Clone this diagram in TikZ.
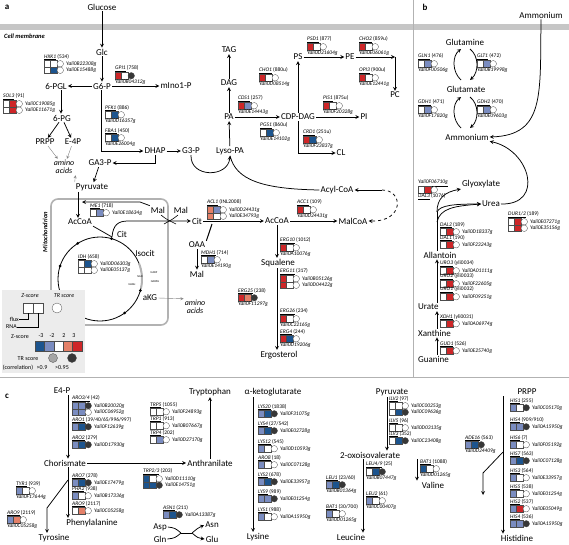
\documentclass[tikz,border=0pt]{standalone}
\usepackage{fontspec}
\setmainfont{Carlito}
\usepackage{tikz}
\usetikzlibrary{arrows}

\definecolor{zdb}{RGB}{28,84,142}
\definecolor{zlb}{RGB}{122,140,192}
\definecolor{zlr}{RGB}{228,128,104}
\definecolor{zdr}{RGB}{206,38,40}
\definecolor{trg}{RGB}{165,165,165}
\definecolor{trd}{RGB}{55,55,55}

\newcommand{\gn}[1]{\underline{\textit{#1}}}
\newcommand{\glyph}[4]{%
  \draw[gbox,fill=#2] (#1) rectangle ++(6.5,6.5);
  \draw[gbox,fill=#3] (#1) ++(6.5,0) rectangle ++(6.5,6.5);
  \draw[gbox,fill=#4] (#1) ++(16.25,3.25) circle (3.25);}
\newcommand{\glab}[3]{\node[glab] (#1) at (#2) {#3};}
\newcommand{\grow}[6]{\glyph{#2}{#3}{#4}{#5}\path (#2) ++(22,3.25) node[gid] (#1) {#6};}
\newcommand{\gbel}[6]{\glyph{#2}{#3}{#4}{#5}\path (#2) ++(0,10) node[gid] (#1) {#6};}

\begin{document}
\begin{tikzpicture}[x=1pt,y=-1pt,
  met/.style={font=\fontsize{9}{10}\selectfont,inner sep=1pt},
  glab/.style={font=\fontsize{5.5}{6}\selectfont,anchor=west,inner sep=0pt},
  gid/.style={font=\fontsize{5.5}{6}\selectfont\itshape,anchor=west,inner sep=0pt},
  gbox/.style={draw=black!70,line width=0.3pt},
  arr/.style={->,>=stealth,line width=0.75pt},
  garr/.style={->,>=stealth,gray,line width=0.4pt},
  aa/.style={font=\fontsize{8}{8.5}\selectfont\itshape,align=center,inner sep=1pt},
  tiny/.style={font=\fontsize{2.8}{3}\selectfont,inner sep=0pt},
  leg/.style={font=\fontsize{6}{7}\selectfont,inner sep=0pt},
  plab/.style={font=\bfseries\fontsize{9}{10}\selectfont,inner sep=0pt}]
\useasboundingbox (0,0) rectangle (569,544);

% frame
\fill[gray!45] (0,24) rectangle (569,30);
\draw[gray!60,line width=1pt] (413,0) -- (413,377);
\draw[gray!60,line width=1pt] (0,377) -- (569,377);
\node[plab] (la) at (7,7) {a};
\node[plab] (lb) at (425,7) {b};
\node[plab] (lc) at (7,396) {c};
\node[font=\bfseries\itshape\fontsize{6.5}{7}\selectfont,anchor=west,inner sep=0pt] (memb) at (4,36) {Cell membrane};

% ---------------- panel a
\draw[gray!60,line width=1.6pt,rounded corners=7pt] (51,199) rectangle (168,325);
\node[rotate=90,font=\bfseries\itshape\fontsize{6.5}{7}\selectfont] (mito) at (45,232) {Mitochondrion};

\node[met] (glucose) at (102,7) {Glucose};
\node[met] (glc) at (102,52) {Glc};
\node[met] (g6p) at (102,86) {G6-P};
\node[met] (pgl) at (56,86) {6-PGL};
\node[met] (mino) at (176,86) {mIno1-P};
\node[met] (pg) at (62,118) {6-PG};
\node[met] (prpp) at (45,142) {PRPP};
\node[met] (e4p) at (73,142) {E-4P};
\node[aa] (aa1) at (64,167) {amino\\acids};
\node[met] (dhap) at (155,151) {DHAP};
\node[met] (g3p) at (191,151) {G3-P};
\node[met] (ga3p) at (100,163) {GA3-P};
\node[met] (pyr) at (92,187) {Pyruvate};
\node[met] (accoa) at (80,222) {AcCoA};
\node[met] (mal1) at (158,210) {Mal};
\node[met] (mal2) at (181,210) {Mal};
\node[met] (cit1) at (122,234) {Cit};
\node[met] (isocit) at (145,253) {Isocit};
\node[met] (akg) at (150,298) {aKG};
\node[aa] (aa2) at (195,307) {amino\\acids};
\node[met] (cit2) at (197,221) {Cit};
\node[met] (accoa2) at (277,221) {AcCoA};
\node[met] (malcoa) at (353,221) {MalCoA};
\node[met] (oaa) at (197,245) {OAA};
\node[met] (mal3) at (197,274) {Mal};
\node[met] (squal) at (278,263) {Squalene};
\node[met] (ergo) at (279,355) {Ergosterol};
\node[met] (tag) at (229,50) {TAG};
\node[met] (dag) at (229,83) {DAG};
\node[met] (pa) at (229,117) {PA};
\node[met] (lysopa) at (230,151) {Lyso-PA};
\node[met] (cdpdag) at (298,117) {CDP-DAG};
\node[met] (ps) at (298,57) {PS};
\node[met] (pe) at (350,57) {PE};
\node[met] (pc) at (395,95) {PC};
\node[met] (pi) at (364,117) {PI};
\node[met] (cl) at (341,153) {CL};
\node[met] (acylcoa) at (337,190) {Acyl-CoA};

\coordinate (pax) at (78,0);
\coordinate (g6x) at (101,0);
\coordinate (pgx) at (61,0);
\coordinate (pec) at (395,57);
\coordinate (me1end) at (82,202);
\coordinate (citdot) at (112,237);
\coordinate (sqx) at (277,0);
\coordinate (fasc) at (382,190);

\draw[arr] (glucose) -- (glc);
\draw[arr] (glc) -- (g6p);
\draw[arr] (g6p) -- (pgl);
\draw[arr] (g6p) -- (mino);
\draw[arr] (pgl.south -| pgx) -- (pg.north -| pgx);
\draw[arr] (pg) -- (prpp);
\draw[arr] (pg) -- (e4p);
\draw[garr] (prpp) -- (aa1);
\draw[garr] (e4p) -- (aa1);
\draw[arr] (g6p.south -| g6x) |- (dhap.west);
\draw[arr] (dhap) -- (g3p);
\draw[arr] (dhap.south) |- (ga3p.east);
\draw[arr] (ga3p) -- (pyr);
\draw[garr] (pyr.north west) -- (aa1.south east);
\draw[arr] (pyr.south -| pax) -- (accoa.north -| pax);
\draw[arr] (mal1.north west) -- (140,202) -- (me1end);
\draw[line width=0.75pt] (accoa.south east) .. controls (102,231) .. (citdot);
\draw[arr] (citdot) .. controls (113,225) and (118,221) .. (128,221) -- (cit2.west);
\draw[line width=0.6pt] (161,215) .. controls (166,219) .. (176,224);
\draw[line width=0.6pt] (178,215) .. controls (173,219) .. (164,224);
\draw[arr] (cit2) -- (accoa2);
\draw[line width=1pt] (212,224) -- (oaa.north east);
\draw[arr] (oaa) -- (mal3);
\draw[arr] (accoa2) -- (malcoa);
\draw[arr] (accoa2.south -| sqx) -- (squal.north -| sqx);
\draw[arr] (squal.south -| sqx) -- (ergo.north -| sqx);
\draw[garr] (akg.east) -- (aa2.north west);
\draw[arr] (g3p.south) .. controls (190,178) and (228,178) .. (lysopa.south);
\draw[line width=0.75pt] (acylcoa.west) .. controls (262,189) and (236,180) .. (lysopa.south);
\draw[arr] (lysopa) -- (pa);
\draw[arr] (pa) -- (dag);
\draw[arr] (dag) -- (tag);
\draw[arr] (pa) -- (cdpdag);
\draw[arr] (cdpdag) -- (ps);
\draw[arr] (ps) -- (pe);
\draw[arr] (pe) -- (pec);
\draw[arr] (pec) -- (pc);
\draw[arr] (cdpdag) -- (pi);
\draw[arr] (cdpdag.south) |- (cl.west);
\draw[arr] (fasc) -- (acylcoa.east);
\draw[arr,dashed] (fasc) .. controls (404,190) and (404,222) .. (malcoa.east);

% TCA cycle
\draw[line width=0.8pt] (100,279) circle (42);
\draw[gray!60,line width=2pt] (100,279) ++(-22:42) arc (-22:12:42);
\foreach \a in {-74,-122,-162,54,16}
  \fill (100,279) ++(\a:42) circle (1.5);
\node[tiny] (nad) at (140,277) {NAD};
\node[tiny] (nadp) at (154,273) {NADP};
\node[tiny] (nadh) at (132,285) {NADH};
\node[tiny] (nadph) at (155,282) {NADPH};

% genes panel a
\glab{hxk1}{44,57}{\gn{HXK1} (534)}
\grow{hxk1a}{44,60.5}{white}{white}{white}{Yali0B22308g}
\grow{hxk1b}{44,67}{white}{zdb}{white}{Yali0E15488g}
\glab{gpi1}{115,69}{\gn{GPI1} (758)}
\gbel{gpi1a}{115,72.5}{zdr}{white}{trd}{Yali0B04312g}
\glab{sol3}{3,97}{\gn{SOL3} (91)}
\grow{sol3a}{3,100.5}{white}{zdr}{white}{Yali0C19085g}
\grow{sol3b}{3,107}{white}{zdr}{white}{Yali0E11671g}
\glab{pfk1}{105,108}{\gn{PFK1} (886)}
\gbel{pfk1a}{105,111.5}{white}{zdb}{white}{Yali0D16357g}
\glab{fba1}{105,131}{\gn{FBA1} (450)}
\gbel{fba1a}{105,134.5}{white}{zdb}{white}{Yali0E26004g}
\glab{me1}{90,206}{\gn{ME1} (718)}
\grow{me1a}{90,209.5}{white}{zlb}{white}{Yali0E18634g}
\glab{idh}{78,257}{\gn{IDH} (658)}
\grow{idha}{78,260.5}{white}{zdb}{white}{Yali0D06303g}
\grow{idhb}{78,267}{white}{white}{white}{Yali0E05137g}
\glab{cho1}{259,71}{\gn{CHO1} (880u)}
\gbel{cho1a}{259,74.5}{zdr}{white}{white}{Yali0D08514g}
\glab{cds1}{238,99}{\gn{CDS1} (257)}
\gbel{cds1a}{238,102.5}{zdr}{zlb}{white}{Yali0E14443g}
\glab{psd1}{307,40}{\gn{PSD1} (877)}
\gbel{psd1a}{307,43.5}{zdr}{white}{white}{Yali0D21604g}
\glab{cho2}{359,40}{\gn{CHO2} (859u)}
\gbel{cho2a}{359,43.5}{zdr}{white}{white}{Yali0E06061g}
\glab{opi3}{359,71}{\gn{OPI3} (900u)}
\gbel{opi3a}{359,74.5}{zdr}{white}{white}{Yali0E12441g}
\glab{pis1}{323,99}{\gn{PIS1} (875u)}
\gbel{pis1a}{323,102.5}{zdr}{white}{white}{Yali0F20328g}
\glab{pgs1}{260,126}{\gn{PGS1} (860u)}
\gbel{pgs1a}{260,129.5}{white}{zdb}{white}{Yali0E14102g}
\glab{crd1}{303,133}{\gn{CRD1} (251u)}
\gbel{crd1a}{303,136.5}{zdr}{zdb}{white}{Yali0F23837g}
\glab{acl1}{207,203}{\gn{ACL1} (INL2008)}
\grow{acl1a}{207,206.5}{zlr}{zlb}{white}{Yali0D24431g}
\grow{acl1b}{207,213}{zlr}{white}{white}{Yali0E34793g}
\glab{acc1}{297,203}{\gn{ACC1} (109)}
\gbel{acc1a}{297,206.5}{zdr}{white}{white}{Yali0D24431g}
\glab{mdh1}{201,253}{\gn{MDH1} (714)}
\gbel{mdh1a}{201,256.5}{white}{zlb}{white}{Yali0E14190g}
\glab{erg10}{280,241}{\gn{ERG10} (1012)}
\gbel{erg10a}{280,244.5}{zdr}{white}{white}{Yali0A10076g}
\glab{erg11}{280,272}{\gn{ERG11} (317)}
\grow{erg11a}{280,275.5}{zdr}{white}{white}{Yali0B05126g}
\grow{erg11b}{280,282}{zdr}{white}{white}{Yali0D04422g}
\glab{erg25}{238,291}{\gn{ERG25} (238)}
\gbel{erg25a}{238,294.5}{zdr}{zlr}{trd}{Yali0F11297g}
\glab{erg26}{280,312}{\gn{ERG26} (234)}
\gbel{erg26a}{280,315.5}{zdr}{white}{white}{Yali0C22165g}
\glab{erg4}{280,332}{\gn{ERG4} (244)}
\gbel{erg4a}{280,335.5}{zdr}{zdb}{white}{Yali0D19206g}

% legend
\fill[gray!15] (2,290) rectangle (85,373);
\node[leg,font=\fontsize{6}{7}\selectfont\itshape] (lz1) at (30,296) {Z-score};
\node[leg,font=\fontsize{6}{7}\selectfont\itshape] (ltr1) at (64,296) {TR score};
\draw[gbox,fill=white] (23,303) rectangle (33,313);
\draw[gbox,fill=white] (33,303) rectangle (43,313);
\draw[gbox,fill=white] (57,308) circle (5);
\node[leg,anchor=east] (lflux) at (19,319) {flux};
\node[leg,anchor=east] (lrna) at (17,327) {RNA};
\draw[line width=0.4pt] (28,313) |- (lflux.east);
\draw[line width=0.4pt] (38,313) |- (lrna.east);
\node[leg] (lz2) at (20,337) {Z-score};
\node[leg] (lm3) at (41,336) {-3};
\node[leg] (lm2) at (52,336) {-2};
\node[leg] (lp2) at (64,336) {2};
\node[leg] (lp3) at (74,336) {3};
\foreach \c [count=\i from 0] in {zdb,zlb,white,zlr,zdr}
  \draw[gbox,fill=\c] (35+9.4*\i,341) rectangle ++(9.4,10);
\node[leg] (ltr2) at (28,359) {TR score};
\node[leg] (lcor) at (18,368) {(correlation)};
\draw[gbox,fill=trg] (53,358) circle (4.5);
\draw[gbox,fill=trd] (72,358) circle (4.5);
\node[leg] (l09) at (42,368) {>0.9};
\node[leg] (l095) at (62,368) {>0.95};

% ---------------- panel b
\node[met] (amm1) at (541,15) {Ammonium};
\node[met] (gln) at (465,42) {Glutamine};
\node[met] (glu) at (466,89) {Glutamate};
\node[met] (amm2) at (467,137) {Ammonium};
\node[met] (glyox) at (481,184) {Glyoxylate};
\node[met] (urea) at (491,204) {Urea};
\node[met] (allan) at (440,255) {Allantoin};
\node[met,anchor=west] (urate) at (417,307) {Urate};
\node[met,anchor=west] (xanth) at (417,333) {Xanthine};
\node[met,anchor=west] (guan) at (417,359) {Guanine};
\coordinate (alx) at (437,0);
\coordinate (alk) at (437,212);

\draw[arr] (amm1.south) .. controls (540,95) and (545,135) .. (amm2.east);
\draw[arr] (461,80) .. controls (452,72) and (452,56) .. (461,49);
\draw[arr] (470,49) .. controls (479,56) and (479,72) .. (470,80);
\draw[arr] (461,128) .. controls (452,120) and (452,104) .. (461,97);
\draw[arr] (470,97) .. controls (479,104) and (479,120) .. (470,128);
\draw[arr] (urea.east) .. controls (545,205) and (530,150) .. (amm2.south east);
\draw[line width=0.75pt] (allan.north -| alx) -- (alk);
\draw[arr] (alk) .. controls (437,198) and (445,192) .. (glyox.south west);
\draw[arr] (alk) .. controls (440,205) and (455,204) .. (urea.west);
\draw[arr] (437,222) .. controls (440,208) and (455,206) .. (urea.west);
\draw[arr] (urate.north -| alx) -- (allan.south -| alx);
\draw[arr] (xanth.north -| alx) -- (urate.south -| alx);
\draw[arr] (guan.north -| alx) -- (xanth.south -| alx);

\glab{gln1}{418,57}{\gn{GLN1} (476)}
\gbel{gln1a}{418,60.5}{white}{zlb}{white}{Yali0F00506g}
\glab{glt1}{477,57}{\gn{GLT1} (472)}
\gbel{glt1a}{477,60.5}{white}{zlb}{white}{Yali0B19998g}
\glab{gdh1}{418,103}{\gn{GDH1} (471)}
\gbel{gdh1a}{418,106.5}{white}{zlb}{white}{Yali0F17820g}
\glab{gdh2}{477,103}{\gn{GDH2} (470)}
\gbel{gdh2a}{477,106.5}{white}{zlb}{white}{Yali0E09603g}
\node[gid] (dal3id) at (418,183) {\underline{Yali0F06710g}};
\glyph{418,186.5}{white}{zdr}{white}
\glab{dal3}{418,197}{\gn{DAL3} (1076)}
\glab{dur}{508,215}{\gn{DUR1/2} (189)}
\grow{dura}{508,218.5}{white}{zdr}{white}{Yali0E07271g}
\grow{durb}{508,225}{white}{zdr}{white}{Yali0E35156g}
\glab{dal2}{440,225}{\gn{DAL2} (189)}
\grow{dal2a}{440,228.5}{white}{zdr}{white}{Yali0D18337g}
\glab{dal1}{440,238}{\gn{DAL1} (190)}
\grow{dal1a}{440,241.5}{white}{zdr}{white}{Yali0F23243g}
\glab{uro3}{440,264}{\gn{URO3} (yli0034)}
\grow{uro3a}{440,267.5}{white}{zdr}{white}{Yali0A01111g}
\glab{uro2}{440,277}{\gn{URO2} (yli0033)}
\grow{uro2a}{440,280.5}{white}{zdr}{white}{Yali0F22605g}
\glab{uro1}{440,290}{\gn{URO1} (yli0032)}
\grow{uro1a}{440,293.5}{white}{zdr}{white}{Yali0F09251g}
\glab{xdh1}{440,317}{\gn{XDH1} (yli0031)}
\grow{xdh1a}{440,320.5}{white}{zdr}{white}{Yali0A06974g}
\glab{gud1}{440,344}{\gn{GUD1} (526)}
\grow{gud1a}{440,347.5}{white}{zdr}{white}{Yali0E25740g}

% ---------------- panel c
\node[met] (e4p2) at (62,391) {E4-P};
\node[met] (trp) at (210,392) {Tryptophan};
\node[met] (akg2) at (273,392) {α-ketoglutarate};
\node[met] (pyr2) at (392,392) {Pyruvate};
\node[met] (prpp2) at (527,392) {PRPP};
\node[met] (chor) at (65,463) {Chorismate};
\node[met] (anth) at (210,463) {Anthranilate};
\node[met] (phe) at (92,523) {Phenylalanine};
\node[met] (tyr) at (54,538) {Tyrosine};
\node[met] (asp) at (160,527) {Asp};
\node[met] (gln2) at (160,539) {Gln};
\node[met] (asn) at (212,525) {Asn};
\node[met] (glu2) at (212,539) {Glu};
\node[met] (lys) at (258,537) {Lysine};
\node[met] (oiv) at (370,455) {2-oxoisovalerate};
\node[met] (leu) at (351,537) {Leucine};
\node[met] (val) at (433,485) {Valine};
\node[met] (his) at (517,538) {Histidine};

\coordinate (chx) at (68,0);
\coordinate (tybr) at (68,480);
\coordinate (tyk) at (47,508);
\coordinate (axl) at (181,533);
\coordinate (axr) at (192,533);
\coordinate (lyx) at (253,0);
\coordinate (pyx) at (387,0);
\coordinate (lex) at (363,0);
\coordinate (vax) at (417,0);
\coordinate (hix) at (503,0);
\coordinate (adbr) at (503,452);
\coordinate (adk) at (483,473);
\coordinate (adend) at (483,495);

\draw[arr] (e4p2.south -| chx) -- (chor.north -| chx);
\draw[arr] (chor) -- (anth);
\draw[arr] (anth) -- (trp);
\draw[arr] (chor.south -| chx) -- (phe.north -| chx);
\draw[arr] (tybr) -- (tyk) -- (tyk |- tyr.north);
\draw[line width=0.75pt] (asp.east) .. controls (175,528) .. (axl);
\draw[line width=0.75pt] (gln2.east) .. controls (175,538) .. (axl);
\draw[line width=0.75pt] (axl) -- (axr);
\draw[arr] (axr) .. controls (198,528) .. (asn.west);
\draw[arr] (axr) .. controls (198,538) .. (glu2.west);
\draw[arr] (akg2.south -| lyx) -- (lys.north -| lyx);
\draw[arr] (pyr2.south -| pyx) -- (oiv.north -| pyx);
\draw[arr] (oiv.south -| lex) -- (leu.north -| lex);
\draw[arr] (oiv.south -| vax) -- (val.north -| vax);
\draw[arr] (prpp2.south -| hix) -- (his.north -| hix);
\draw[arr] (adbr) -- (adk) -- (adend);

\glab{aro34}{72,399}{\gn{ARO3/4} (42)}
\grow{aro34a}{72,402.5}{zlb}{zlb}{trd}{Yali0B20020g}
\grow{aro34b}{72,409}{zlb}{zlb}{white}{Yali0C06952g}
\glab{aro1}{72,420}{\gn{ARO1} (39/40/65/996/997)}
\grow{aro1a}{72,423.5}{zlb}{zdb}{trd}{Yali0F12639g}
\glab{aro2}{72,438}{\gn{ARO2} (279)}
\grow{aro2a}{72,441.5}{zlb}{zdb}{trd}{Yali0D17930g}
\glab{trp5}{150,405}{\gn{TRP5} (1055)}
\grow{trp5a}{150,408.5}{white}{white}{white}{Yali0F24893g}
\glab{trp1}{150,419}{\gn{TRP1} (913)}
\grow{trp1a}{150,422.5}{white}{white}{white}{Yali0B07667g}
\glab{trp4}{150,433}{\gn{TRP4} (202)}
\grow{trp4a}{150,436.5}{white}{zlb}{white}{Yali0D27170g}
\glab{trp23}{143,472}{\gn{TRP2/3} (203)}
\grow{trp23a}{143,475.5}{zdb}{white}{white}{Yali0D11110g}
\grow{trp23b}{143,482}{zdb}{zdb}{trd}{Yali0E14751g}
\glab{aro7}{72,476}{\gn{ARO7} (278)}
\grow{aro7a}{72,479.5}{zlb}{zdb}{trd}{Yali0E17479g}
\glab{pha2}{72,489}{\gn{PHA2} (938)}
\grow{pha2a}{72,492.5}{zlb}{white}{white}{Yali0B17336g}
\glab{aro9a}{72,504}{\gn{ARO9} (2117)}
\grow{aro9aa}{72,507.5}{white}{zlr}{white}{Yali0C05258g}
\glab{tyr1}{16,484}{\gn{TYR1} (939)}
\gbel{tyr1a}{16,487.5}{zlb}{white}{white}{Yali0F17644g}
\glab{aro9b}{7,513}{\gn{ARO9} (2119)}
\gbel{aro9ba}{7,516.5}{zlb}{zlr}{white}{Yali0C05258g}
\glab{asn1}{163,508}{\gn{ASN1} (211)}
\grow{asn1a}{163,511.5}{zlb}{zdb}{trd}{Yali0A13387g}

\glab{lys20}{258,407}{\gn{LYS20} (1838)}
\grow{lys20a}{258,410.5}{zlb}{zdb}{trd}{Yali0F31075g}
\glab{lys4}{258,424}{\gn{LYS4} (27/542)}
\grow{lys4a}{258,427.5}{zlb}{zdb}{trd}{Yali0E02728g}
\glab{lys12}{258,442}{\gn{LYS12} (545)}
\grow{lys12a}{258,445.5}{zlb}{white}{white}{Yali0D10593g}
\glab{aro8}{258,458}{\gn{ARO8} (18)}
\grow{aro8a}{258,461.5}{zlb}{white}{white}{Yali0C07128g}
\glab{lys2}{258,475}{\gn{LYS2} (678)}
\grow{lys2a}{258,478.5}{zlb}{zdb}{trd}{Yali0E33957g}
\glab{lys9}{258,492}{\gn{LYS9} (989)}
\grow{lys9a}{258,495.5}{zlb}{zlb}{trd}{Yali0E01254g}
\glab{lys1}{258,510}{\gn{LYS1} (988)}
\grow{lys1a}{258,513.5}{zlb}{white}{white}{Yali0A15950g}

\glab{ilv2}{389,399}{\gn{ILV2} (97)}
\grow{ilv2a}{389,402.5}{white}{white}{white}{Yali0C00253g}
\grow{ilv2b}{389,409}{white}{zdb}{trd}{Yali0C09636g}
\glab{ilv5}{389,421}{\gn{ILV5} (96)}
\grow{ilv5a}{389,424.5}{white}{white}{white}{Yali0D03135g}
\glab{ilv3}{389,434}{\gn{ILV3} (352)}
\grow{ilv3a}{389,437.5}{white}{zdb}{trd}{Yali0C23408g}
\glab{leu49}{366,465}{\gn{LEU4/9} (25)}
\gbel{leu49a}{366,468.5}{white}{zdb}{trd}{Yali0B07447g}
\glab{leu2}{366,494}{\gn{LEU2} (61)}
\gbel{leu2a}{366,497.5}{zlb}{white}{white}{Yali0C00407g}
\glab{leu1}{326,478}{\gn{LEU1} (23/60)}
\gbel{leu1a}{326,481.5}{zlb}{zdb}{trd}{Yali0B01364g}
\glab{bat1a}{326,507}{\gn{BAT1} (30/700)}
\gbel{bat1aa}{326,510.5}{zlb}{white}{white}{Yali0D01265g}
\glab{bat1b}{420,462}{\gn{BAT1} (1088)}
\gbel{bat1ba}{420,465.5}{zdb}{white}{white}{Yali0D01265g}
\glab{ade16}{465,438}{\gn{ADE16} (563)}
\gbel{ade16a}{465,441.5}{zlb}{zdb}{trd}{Yali0D24409g}

\glab{his1}{510,401}{\gn{HIS1} (255)}
\grow{his1a}{510,404.5}{zlb}{white}{trd}{Yali0C05170g}
\glab{his4a}{510,420}{\gn{HIS4} (909/910)}
\grow{his4aa}{510,423.5}{zlb}{zlb}{trd}{Yali0A15950g}
\glab{his6}{510,438}{\gn{HIS6} (7)}
\grow{his6a}{510,441.5}{zlb}{white}{white}{Yali0F05192g}
\glab{his7}{510,454}{\gn{HIS7} (563)}
\grow{his7a}{510,457.5}{zlb}{zdb}{trd}{Yali0C07128g}
\glab{his3}{510,471}{\gn{HIS3} (564)}
\grow{his3a}{510,474.5}{zlb}{white}{white}{Yali0E33957g}
\glab{his5}{510,487}{\gn{HIS5} (538)}
\grow{his5a}{510,490.5}{zlb}{white}{white}{Yali0E01254g}
\glab{his2}{510,502}{\gn{HIS2} (537)}
\grow{his2a}{510,505.5}{zlb}{zdr}{white}{Yali0E05049g}
\glab{his4b}{510,517}{\gn{HIS4} (536)}
\grow{his4ba}{510,520.5}{zlb}{zlb}{trd}{Yali0A15950g}
\end{tikzpicture}
\end{document}
